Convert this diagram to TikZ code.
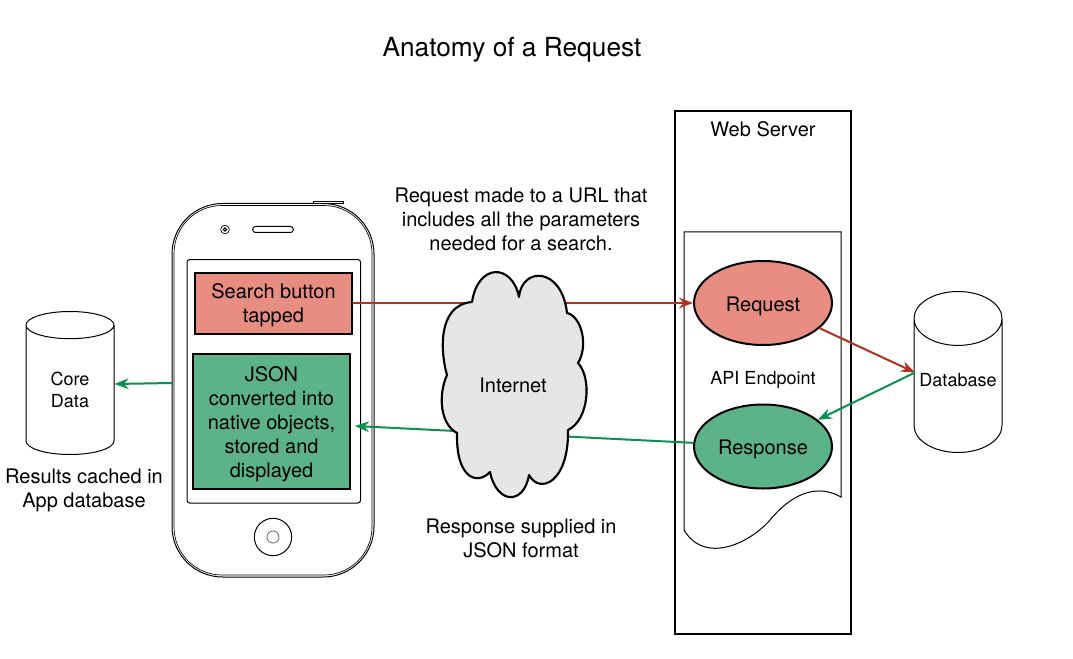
\documentclass[tikz,border=0pt]{standalone}
\usepackage{fontspec}
\setmainfont{TeX Gyre Heros}
\usetikzlibrary{arrows.meta, positioning, shapes.geometric, calc}
\definecolor{cred}{HTML}{E78D81}
\definecolor{cgreen}{HTML}{5CB388}
\definecolor{credline}{HTML}{B23121}
\definecolor{cgreenline}{HTML}{0B9150}
\definecolor{ccloud}{HTML}{E6E6E6}
\tikzset{
  every picture/.style={line width=0.75pt},
  txt/.style={font=\fontsize{15}{18}\selectfont, align=center, inner sep=0pt},
  smalltxt/.style={font=\fontsize{13.5}{16}\selectfont, align=center, inner sep=0pt},
  box/.style={draw=black, fill=#1, line width=1.5pt, align=center, inner sep=0pt, minimum width=117.75pt, font=\fontsize{15}{18}\selectfont},
  oval/.style={ellipse, draw=black, fill=#1, line width=1.5pt, inner sep=0pt, minimum width=103.5pt, minimum height=63pt, text height=15pt, text depth=3pt, font=\fontsize{15}{18}\selectfont},
  store/.style={cylinder, shape border rotate=90, aspect=0.7, anchor=south, draw=black, fill=white, inner sep=0pt, minimum width=66pt, align=center, smalltxt},
  redarrow/.style={-{Stealth[length=10.5pt, width=8pt]}, draw=credline, line width=1.5pt},
  greenarrow/.style={-{Stealth[length=10.5pt, width=8pt]}, draw=cgreenline, line width=1.5pt},
}
\begin{document}
\begin{tikzpicture}[x=0.75pt, y=-0.75pt]
  \useasboundingbox (0,0) rectangle (1073,659);
  \node[txt, font=\fontsize{19.7}{24}\selectfont] (title) at (512,50) {Anatomy of a Request};
  % phone
  \draw[rounded corners=38pt] (172,203.5) rectangle (374,577);
  \draw[rounded corners=36pt, line width=0.5pt] (174,205.5) rectangle (372,575);
  \draw[line width=0.5pt, fill=white] (313,201) rectangle (343,203.5);
  \node[draw, circle, minimum size=6.5pt, inner sep=0pt, line width=0.5pt] (camera) at (225,229.5) {};
  \node[draw, circle, minimum size=2.5pt, inner sep=0pt] (lens) at (225,229.5) {};
  \node[draw, rounded corners=2.2pt, minimum width=30.5pt, minimum height=4.5pt, inner sep=0pt] (speaker) at (273,229.5) {};
  \draw[rounded corners=2pt] (187,259.5) rectangle (360.5,503);
  \node[draw, circle, minimum size=28pt, inner sep=0pt] (home) at (273,537) {};
  \node[draw=gray, circle, minimum size=9pt, inner sep=0pt] (homein) at (273,537) {};
  \node[box=cred, minimum height=45.75pt, text height=33pt] (search) at (273.5,303) {Search button\\tapped};
  \node[box=cgreen, minimum height=101.25pt, text height=87pt] (json) at (271.5,421.5) {JSON\\converted into\\native objects,\\stored and\\displayed};
  % server
  \node[draw, line width=1.5pt, minimum width=132pt, minimum height=392.25pt, inner sep=0pt] (server) at (763,372.5) {};
  \node[txt] (servername) at (763,129) {Web Server};
  \draw (684,530) -- (684,232) -- (841,232) -- (841,497)
    .. controls (820,485) and (795,490) .. (770,520)
    .. controls (750,543) and (705,565) .. (684,530);
  \node[smalltxt] (endpoint) at (763,380) {API Endpoint};
  \node[oval=cred] (request) at (763,303) {Request};
  \node[oval=cgreen] (response) at (763,446.5) {Response};
  % stores
  \node[store, minimum height=120.75pt, text depth=9pt] (database) at (958,453) {Database};
  \node[store, minimum height=107.25pt] (coredata) at (70,455) {Core\\Data};
  \coordinate (phoneleft) at (172,383);
  \coordinate (coreport) at (114.5,384);
  \coordinate (jsontip) at (355,426);
  \coordinate (dbport) at (915,372.5);
  % connectors
  \draw[redarrow] (search.east) -- (request.west);
  \draw[greenarrow] (response.177) -- (jsontip);
  \draw[greenarrow] (phoneleft) -- (coreport);
  \draw[redarrow] (request.-24) -- (dbport);
  \draw[greenarrow] (dbport) -- (response.26);
  % cloud
  \draw[fill=ccloud, line width=1.6pt, line join=round] (472,302)
    .. controls (478,263) and (512,263) .. (519,297)
    .. controls (522,266) and (562,267) .. (567,313)
    .. controls (581,316) and (589,345) .. (578,363)
    .. controls (592,378) and (589,420) .. (568,430)
    .. controls (569,482) and (540,495) .. (529,475)
    .. controls (524,505) and (497,505) .. (490,472)
    .. controls (478,485) and (456,480) .. (457,433)
    .. controls (440,424) and (438,395) .. (447,375)
    .. controls (441,355) and (436,305) .. (472,302) -- cycle;
  \node[txt] (internet) at (513,385) {Internet};
  % captions
  \node[txt] (asktext) at (521,219.5) {Request made to a URL that\\includes all the parameters\\needed for a search.};
  \node[txt] (answertext) at (521,538) {Response supplied in\\JSON format};
  \node[txt] (cachetext) at (84,490) {Results cached in\\App database};
\end{tikzpicture}
\end{document}
